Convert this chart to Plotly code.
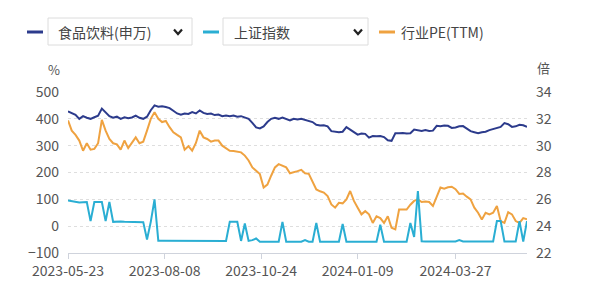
import pandas as pd
import plotly.graph_objects as go

# ---------------- data ----------------
dates = pd.date_range("2023-05-23", "2024-05-23", freq="3D")

food_bev = [428, 422, 415, 400, 410, 404, 400, 406, 412, 438, 425, 410, 404, 408, 400, 406, 402, 405, 412, 404,
            400, 408, 432, 450, 445, 447, 444, 440, 430, 420, 415, 420, 418, 425, 420, 431, 422, 418, 420, 414,
            416, 410, 412, 410, 412, 408, 410, 405, 400, 385, 368, 364, 372, 388, 400, 404, 400, 405, 398, 394,
            400, 398, 400, 396, 394, 388, 378, 375, 376, 372, 354, 352, 350, 352, 369, 360, 350, 341, 345, 344,
            330, 336, 335, 336, 332, 320, 318, 346, 346, 347, 345, 346, 360, 357, 355, 358, 355, 356, 374, 372,
            375, 374, 366, 368, 372, 373, 362, 354, 350, 346, 350, 352, 358, 362, 366, 370, 384, 380, 370, 372,
            378, 376, 370]

sh_index = [96, 93, 91, 88, 89, 90, 19, 90, 90, 90, 19, 90, 16, 17, 17, 16, 16, 16, 16, 15,
            15, -50, 16, 100, -54, -54, -54, -54, -55, -55, -55, -55, -55, -55, -55, -55, -55, -55, -55, -55,
            -55, -55, -55, 16, 17, 16, -55, 10, -55, -52, -46, -58, -58, -58, -58, -58, -58, 16, -58, -58,
            -58, -58, -58, -52, -58, -58, 12, -58, -58, -58, -58, -58, -58, 8, -58, -58, -58, -58, -58, -58,
            -58, -58, -58, 5, -58, -58, -58, -58, -58, -58, -58, 12, -40, 131, -56, -57, -57, -57, -57, -57,
            -57, -57, -57, -57, -52, -57, -57, -57, -57, -57, -57, -57, -57, -57, 19, 19, -57, -57, -57, -57,
            19, -57, 19]

pe_ttm = [31.88, 31.12, 30.80, 30.38, 29.62, 30.18, 29.70, 29.76, 30.18, 31.92, 31.12, 30.50, 30.18, 30.10, 29.70,
          30.38, 29.82, 30.18, 30.62, 30.18, 30.30, 31.12, 32.00, 32.50, 32.00, 31.76, 31.84, 31.38, 31.00, 30.80,
          30.62, 29.70, 29.96, 29.62, 30.20, 31.12, 30.62, 30.50, 30.30, 30.38, 30.38, 30.00, 29.80, 29.62, 29.60,
          29.56, 29.50, 29.26, 28.90, 28.38, 28.10, 27.88, 26.88, 27.10, 27.76, 28.38, 28.62, 28.50, 28.38, 27.94,
          28.00, 28.10, 28.20, 27.94, 27.90, 27.26, 26.74, 26.60, 26.50, 26.24, 25.62, 25.38, 25.74, 25.70, 26.00,
          26.62, 25.88, 25.38, 24.88, 25.12, 24.88, 24.24, 24.74, 24.60, 24.24, 24.74, 23.88, 23.76, 25.24, 25.24,
          25.24, 25.60, 25.88, 26.00, 25.80, 25.84, 25.80, 25.50, 26.24, 26.88, 26.80, 26.90, 26.94, 26.76, 26.40,
          26.44, 26.20, 26.00, 25.38, 25.00, 24.50, 25.00, 24.88, 25.00, 25.50, 24.38, 24.24, 25.04, 24.88, 24.38,
          24.24, 24.60, 24.52]

tick_dates = ["2023-05-23", "2023-08-08", "2023-10-24", "2024-01-09", "2024-03-27"]
left_ticks = [-100, 0, 100, 200, 300, 400, 500]
right_ticks = [22, 24, 26, 28, 30, 32, 34]

names = ["食品饮料(申万)", "上证指数", "行业PE(TTM)"]
colors = ["#2c3b8c", "#2aaed3", "#efa240"]

# ---------------- layout helpers ----------------
W, H = 600, 291
L, R, T, B = 68, 73, 92, 38
PW, PH = W - L - R, H - T - B


def px(x):
    return (x - L) / PW


def py(y):
    return (H - B - y) / PH


FONT = "Noto Sans CJK SC"
TXT = "#555555"

fig = go.Figure()
fig.add_trace(go.Scatter(x=dates, y=food_bev, mode="lines", name=names[0],
                         line=dict(color=colors[0], width=2), yaxis="y"))
fig.add_trace(go.Scatter(x=dates, y=pe_ttm, mode="lines", name=names[2],
                         line=dict(color=colors[2], width=2), yaxis="y2"))
fig.add_trace(go.Scatter(x=dates, y=sh_index, mode="lines", name=names[1],
                         line=dict(color=colors[1], width=2), yaxis="y3"))

shapes = []
annotations = []

# custom legend
legend_items = [
    dict(lx=(27, 43), box=(48, 192), tx=56, chev=178, name=names[0], color=colors[0]),
    dict(lx=(203, 219), box=(223, 368), tx=232, chev=358, name=names[1], color=colors[1]),
    dict(lx=(379, 395), box=None, tx=399, chev=None, name=names[2], color=colors[2]),
]
ly = 32
for it in legend_items:
    shapes.append(dict(type="line", xref="paper", yref="paper",
                       x0=px(it["lx"][0]), x1=px(it["lx"][1]), y0=py(ly), y1=py(ly),
                       line=dict(color=it["color"], width=3)))
    if it["box"]:
        shapes.append(dict(type="rect", xref="paper", yref="paper",
                           x0=px(it["box"][0]), x1=px(it["box"][1]), y0=py(18), y1=py(45),
                           line=dict(color="#dcdcdc", width=1), fillcolor="white", layer="below"))
        cx = it["chev"]
        path = "M {} {} L {} {} L {} {}".format(px(cx - 4), py(ly - 2.5), px(cx), py(ly + 2),
                                               px(cx + 4), py(ly - 2.5))
        shapes.append(dict(type="path", xref="paper", yref="paper", path=path,
                           line=dict(color="#222222", width=2.2)))
    annotations.append(dict(text=it["name"], xref="paper", yref="paper", x=px(it["tx"]), y=py(ly),
                            xanchor="left", yanchor="middle", showarrow=False,
                            font=dict(family=FONT, size=14, color="#444444")))

# axis unit labels
annotations.append(dict(text="%", xref="paper", yref="paper", x=px(54), y=py(69),
                        xanchor="center", yanchor="middle", showarrow=False,
                        font=dict(family=FONT, size=13, color=TXT)))
annotations.append(dict(text="倍", xref="paper", yref="paper", x=px(543), y=py(68),
                        xanchor="center", yanchor="middle", showarrow=False,
                        font=dict(family=FONT, size=13, color=TXT)))

fig.update_layout(
    width=W, height=H,
    margin=dict(l=L, r=R, t=T, b=B, pad=0),
    paper_bgcolor="white", plot_bgcolor="white",
    showlegend=False,
    hovermode=False,
    font=dict(family=FONT, size=14, color=TXT),
    shapes=shapes,
    annotations=annotations,
    xaxis=dict(type="date", range=["2023-05-23", "2024-05-23"],
               tickvals=tick_dates, ticktext=tick_dates,
               showgrid=False, zeroline=False,
               showline=True, linecolor="#cfd3dc", linewidth=1,
               ticks="outside", ticklen=5, tickcolor="#cfd3dc",
               tickfont=dict(family=FONT, size=14, color=TXT)),
    yaxis=dict(range=[-100, 500], tickvals=left_ticks,
               showgrid=True, gridcolor="#dedede", griddash="dot", gridwidth=1,
               zeroline=False, showline=False, ticks="", ticklabelstandoff=8,
               tickfont=dict(family=FONT, size=14, color=TXT)),
    yaxis2=dict(range=[22, 34], tickvals=right_ticks, overlaying="y", side="right",
                showgrid=False, zeroline=False, showline=False, ticks="", ticklabelstandoff=8,
                tickfont=dict(family=FONT, size=14, color=TXT)),
    yaxis3=dict(range=[-100, 500], overlaying="y", visible=False),
)

fig.write_html("out.html", config={"displayModeBar": False})
